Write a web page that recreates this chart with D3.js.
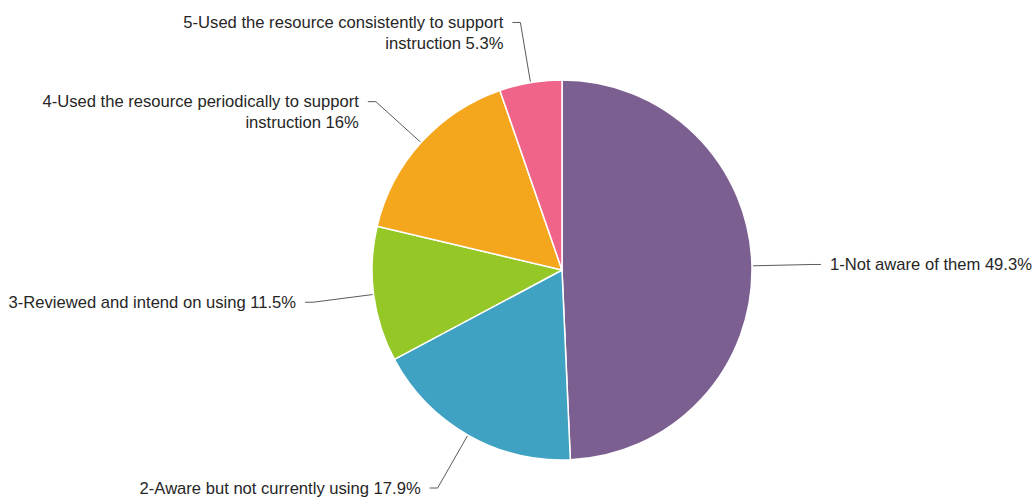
<!DOCTYPE html>
<html>
<head>
<meta charset="utf-8">
<script src="https://cdn.jsdelivr.net/npm/d3@7"></script>
<style>
  html, body { margin: 0; padding: 0; background: #ffffff; }
  svg text { font-family: "Liberation Sans", Arial, Helvetica, sans-serif; }
</style>
</head>
<body>
<svg id="chart" width="1032" height="500"></svg>
<script>
// Survey responses: awareness and use of the resource
const categoryLines = [
  ["1-Not aware of them"],
  ["2-Aware but not currently using"],
  ["3-Reviewed and intend on using"],
  ["4-Used the resource periodically to support", "instruction"],
  ["5-Used the resource consistently to support", "instruction"]
];
const values = [49.3, 17.9, 11.5, 16, 5.3];
const colors = ["#7b5f91", "#40a2c2", "#95c727", "#f4a71d", "#ef6488"];

const width = 1032, height = 500;
const cx = 562, cy = 270;
const radius = 190;
const elbowRadius = 251;
const tick = 8, gap = 9, lineStep = 21;

const svg = d3.select("#chart");
const g = svg.append("g").attr("transform", `translate(${cx},${cy})`);

const pie = d3.pie().sort(null).value(d => d.value);
const data = pie(values.map((v, i) => ({ value: v, lines: categoryLines[i], color: colors[i] })));

const arc = d3.arc().innerRadius(0).outerRadius(radius);

g.selectAll("path.slice")
  .data(data)
  .join("path")
  .attr("class", "slice")
  .attr("d", arc)
  .attr("fill", d => d.data.color)
  .attr("stroke", "#ffffff")
  .attr("stroke-width", 1.5)
  .attr("stroke-linejoin", "round");

// Point on a ray from the centre at the slice's middle angle
function polar(angle, r) {
  return [Math.sin(angle) * r, -Math.cos(angle) * r];
}

const labels = g.selectAll("g.label")
  .data(data)
  .join("g")
  .attr("class", "label");

labels.each(function (d) {
  const mid = (d.startAngle + d.endAngle) / 2;
  const side = Math.sin(mid) >= 0 ? 1 : -1;
  const p0 = polar(mid, radius + 1);
  const p1 = polar(mid, elbowRadius);
  const p2 = [p1[0] + side * tick, p1[1]];
  const sel = d3.select(this);

  sel.append("polyline")
    .attr("points", [p0, p1, p2].map(p => p.join(",")).join(" "))
    .attr("fill", "none")
    .attr("stroke", "#5a5a5a")
    .attr("stroke-width", 1);

  const lines = d.data.lines.slice();
  lines[lines.length - 1] = lines[lines.length - 1] + " " + d.data.value + "%";

  const text = sel.append("text")
    .attr("x", p2[0] + side * gap)
    .attr("y", p2[1])
    .attr("text-anchor", side > 0 ? "start" : "end")
    .attr("font-size", 16.6)
    .attr("fill", "#262626");

  lines.forEach((line, i) => {
    text.append("tspan")
      .attr("x", p2[0] + side * gap)
      .attr("y", p2[1] + i * lineStep)
      .attr("dy", "0.35em")
      .text(line);
  });
});
</script>
</body>
</html>
